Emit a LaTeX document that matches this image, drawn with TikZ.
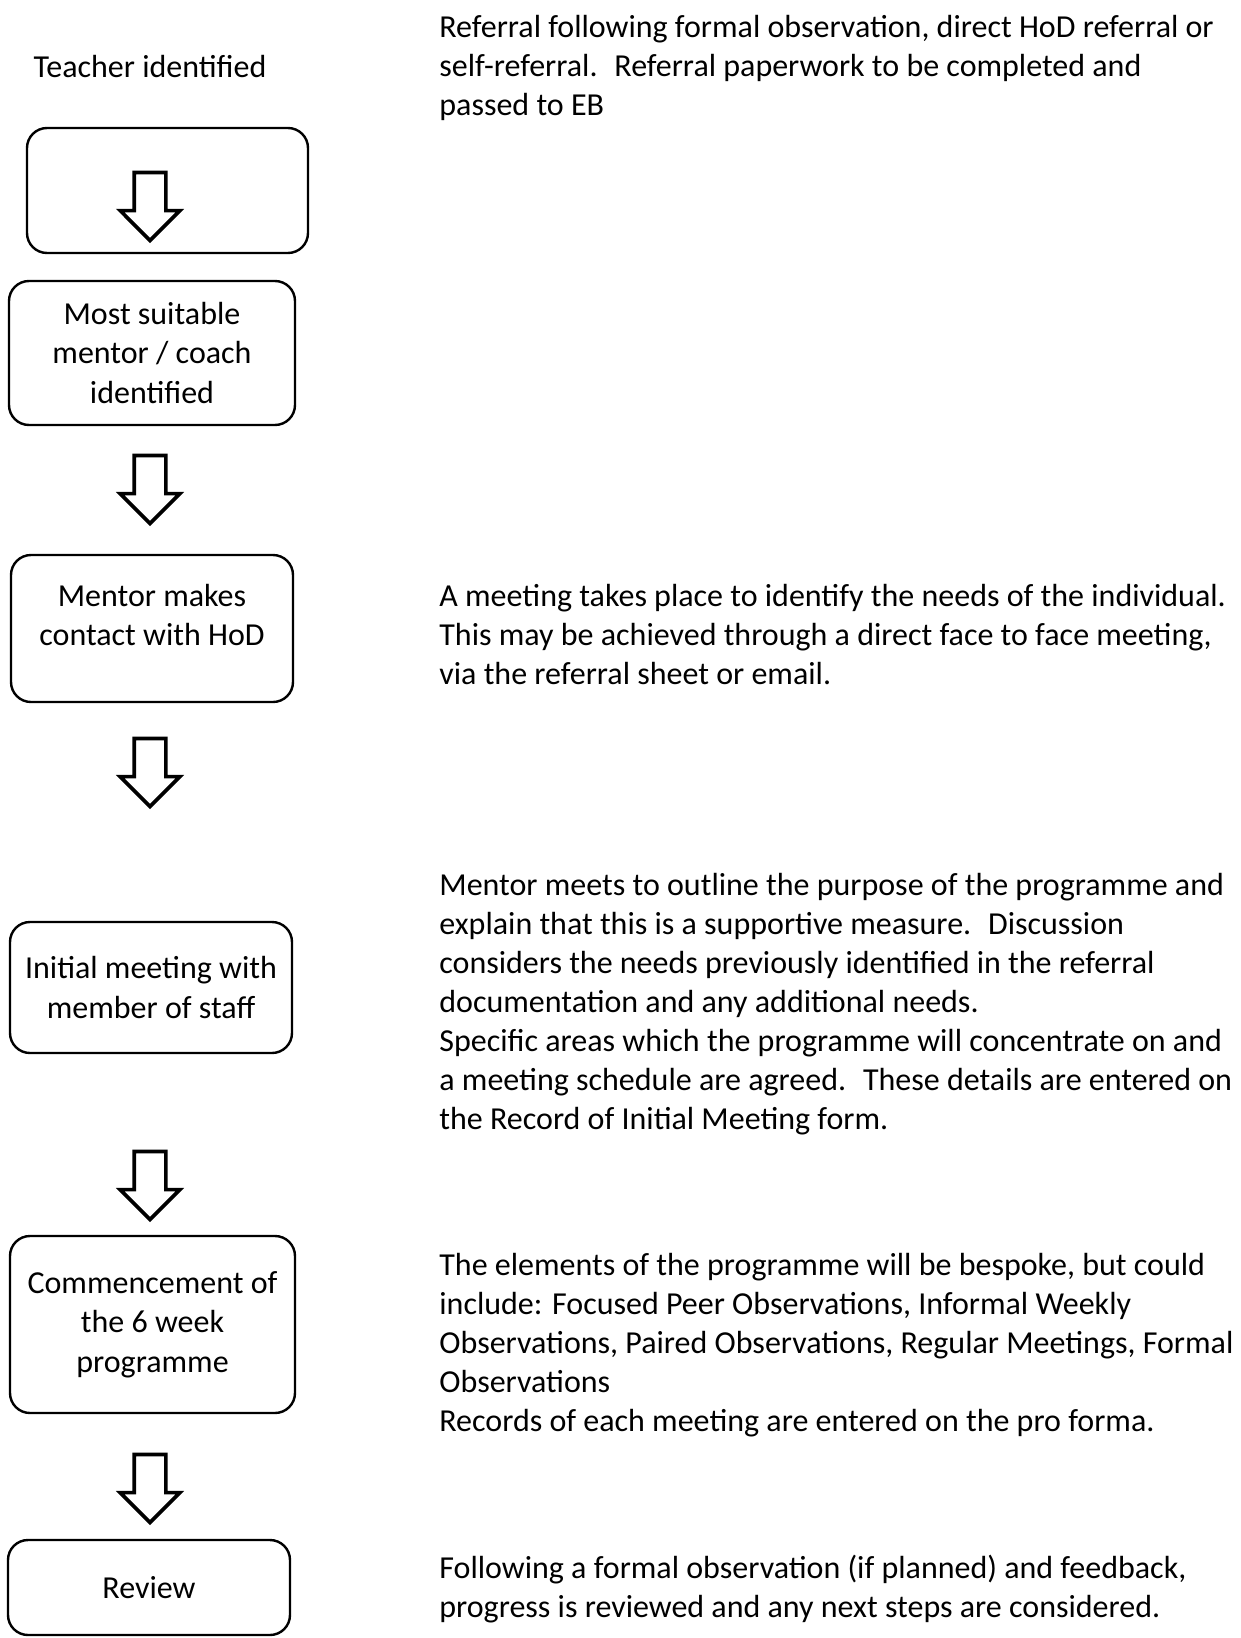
\documentclass[tikz,border=0pt]{standalone}
\usepackage{fontspec}
\setmainfont{Carlito}
\usetikzlibrary{positioning,shapes.arrows}

\tikzset{
  stage/.style    = {draw, line width=1.2pt, rounded corners=10pt, inner sep=0pt, align=center, font=\fontsize{16}{19.75}\selectfont},
  boxtxt/.style   = {align=center, inner sep=0pt, font=\fontsize{16}{19.75}\selectfont},
  downarr/.style  = {single arrow, draw, line width=1.8pt, rotate=-90, anchor=tip, minimum height=34pt, inner sep=7pt, single arrow head extend=7pt, single arrow tip angle=90},
  note/.style     = {align=left, anchor=west, inner sep=0pt, font=\fontsize{16}{19.5}\selectfont}
}

\begin{document}
\begin{tikzpicture}[x=0.5pt, y=-0.5pt]
  \useasboundingbox (0,0) rectangle (1241,1638);

  \node[boxtxt] (teach) at (150,67) {Teacher identified};

  \node[stage, minimum width=140.5pt, minimum height=62.5pt] (b1) at (167.5,190.5) {};
  \node[stage, minimum width=143pt, minimum height=72pt]     (b2) at (152,353)    {Most suitable\\mentor / coach\\identified};
  \node[stage, minimum width=141pt, minimum height=73.5pt]   (b3) at (152,628.5)  {};
  \node[boxtxt] (b3txt) at (152,615) {Mentor makes\\contact with HoD};
  \node[stage, minimum width=141pt, minimum height=65.5pt]   (b4) at (151,987.5)  {Initial meeting with\\member of staff};
  \node[stage, minimum width=142.5pt, minimum height=88.5pt] (b5) at (152.5,1324.5) {Commencement of\\the 6 week\\programme};
  \node[stage, minimum width=141pt, minimum height=47.5pt]   (b6) at (149,1587.5) {Review};

  \node[downarr] (a1) at (150,243)  {};
  \node[downarr] (a2) at (150,526)  {};
  \node[downarr] (a3) at (150,809)  {};
  \node[downarr] (a4) at (150,1222) {};
  \node[downarr] (a5) at (150,1525) {};

  \node[note] (n1) at (439,68) {Referral following formal observation, direct HoD referral or\\self-referral.~ Referral paperwork to be completed and\\passed to EB};
  \node[note] (n3) at (439,635) {A meeting takes place to identify the needs of the individual.\\This may be achieved through a direct face to face meeting,\\via the referral sheet or email.};
  \node[note] (n4) at (439,1004) {Mentor meets to outline the purpose of the programme and\\explain that this is a supportive measure.~ Discussion\\considers the needs previously identified in the referral\\documentation and any additional needs.\\Specific areas which the programme will concentrate on and\\a meeting schedule are agreed.~ These details are entered on\\the Record of Initial Meeting form.};
  \node[note] (n5) at (439,1345) {The elements of the programme will be bespoke, but could\\include: Focused Peer Observations, Informal Weekly\\Observations, Paired Observations, Regular Meetings, Formal\\Observations\\Records of each meeting are entered on the pro forma.};
  \node[note] (n6) at (439,1589) {Following a formal observation (if planned) and feedback,\\progress is reviewed and any next steps are considered.};
\end{tikzpicture}
\end{document}
